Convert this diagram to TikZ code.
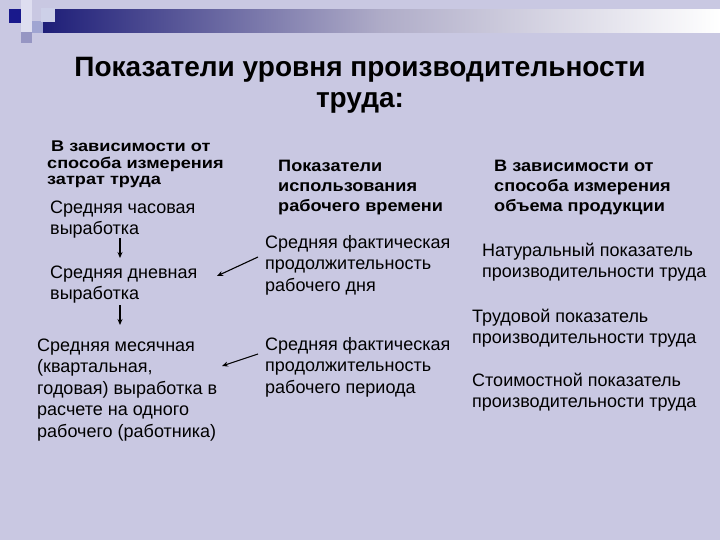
\documentclass[tikz,border=0pt]{standalone}
\usepackage{fontspec}
\setmainfont{Liberation Sans}
\newfontfamily\lheadfont[FakeStretch=1.17]{Liberation Sans Bold}
\newfontfamily\mheadfont[FakeStretch=1.1]{Liberation Sans Bold}
\usetikzlibrary{arrows.meta}
\definecolor{bg}{RGB}{201,200,226}
\definecolor{navyA}{RGB}{25,25,140}
\definecolor{barL}{RGB}{30,30,120}
\definecolor{barM}{RGB}{175,172,200}
\definecolor{sqA}{RGB}{150,150,195}
\definecolor{sqB}{RGB}{160,165,210}
\definecolor{sqC}{RGB}{205,208,232}
\definecolor{stripe}{RGB}{222,222,240}
\begin{document}
\begin{tikzpicture}[x=1pt,y=-1pt,
  body/.style={anchor=north west, inner sep=0pt, align=left, font={\fontsize{18}{21.5}\selectfont}},
  bodyr/.style={anchor=north west, inner sep=0pt, align=left, font={\fontsize{18}{21}\selectfont}},
  headl/.style={anchor=north west, inner sep=0pt, align=left, font={\lheadfont\fontsize{15.5}{16}\selectfont}},
  headm/.style={anchor=north west, inner sep=0pt, align=left, font={\mheadfont\fontsize{16.5}{20}\selectfont}},
  arr/.style={-{Stealth[length=6pt,width=5pt]}, line width=1.1pt, black}]
\useasboundingbox (0,0) rectangle (720,540);
\fill[bg] (0,0) rectangle (720,540);
% decoration
\fill[stripe] (21,0) rectangle (32,32);
\fill[navyA] (9,9) rectangle (21,23);
\shade[left color=barL, right color=white, middle color=barM] (43,10) rectangle (720,33);
\fill[sqB] (32,21) rectangle (43,33);
\fill[sqA] (21,32) rectangle (32,43);
\fill[sqC] (41,8) rectangle (55,22);
% title
\node[anchor=north, inner sep=0pt, align=center, font={\fontsize{28}{31}\selectfont\bfseries}] (title) at (360,54.3)
  {\strut Показатели уровня производительности\\труда:};
% headings
\node[headl] (lh) at (47,140.3) {\strut\hspace*{4pt}В зависимости от\\способа измерения\\затрат труда};
\node[headm] (mh) at (278,157) {\strut Показатели\\использования\\рабочего времени};
\node[headm] (rh) at (494,157) {\strut В зависимости от\\способа измерения\\объема продукции};
% left column
\node[body] (n1) at (50,198) {\strut Средняя часовая\\выработка};
\node[body] (n2) at (50,263) {\strut Средняя дневная\\выработка};
\node[body] (n3) at (37,336) {\strut Средняя месячная\\(квартальная,\\годовая) выработка в\\расчете на одного\\рабочего (работника)};
% middle column
\node[body] (m1) at (265,233) {\strut Средняя фактическая\\продолжительность\\рабочего дня};
\node[body] (m2) at (265,335) {\strut Средняя фактическая\\продолжительность\\рабочего периода};
% right column
\node[bodyr] (r1) at (482,242) {\strut Натуральный показатель\\производительности труда};
\node[bodyr] (r2) at (472,307.3) {\strut Трудовой показатель\\производительности труда};
\node[bodyr] (r3) at (472,372) {\strut Стоимостной показатель\\производительности труда};
% arrows
\draw[arr] ([shift={(70,40)}]n1.north west) -- ([shift={(70,-5)}]n2.north west);
\draw[arr] ([shift={(70,42)}]n2.north west) -- ([shift={(83,-11)}]n3.north west);
\draw[arr] ([shift={(-7,24)}]m1.north west) -- ([shift={(167,13)}]n2.north west);
\draw[arr] ([shift={(-7,19)}]m2.north west) -- ([shift={(185,30)}]n3.north west);
\end{tikzpicture}
\end{document}
